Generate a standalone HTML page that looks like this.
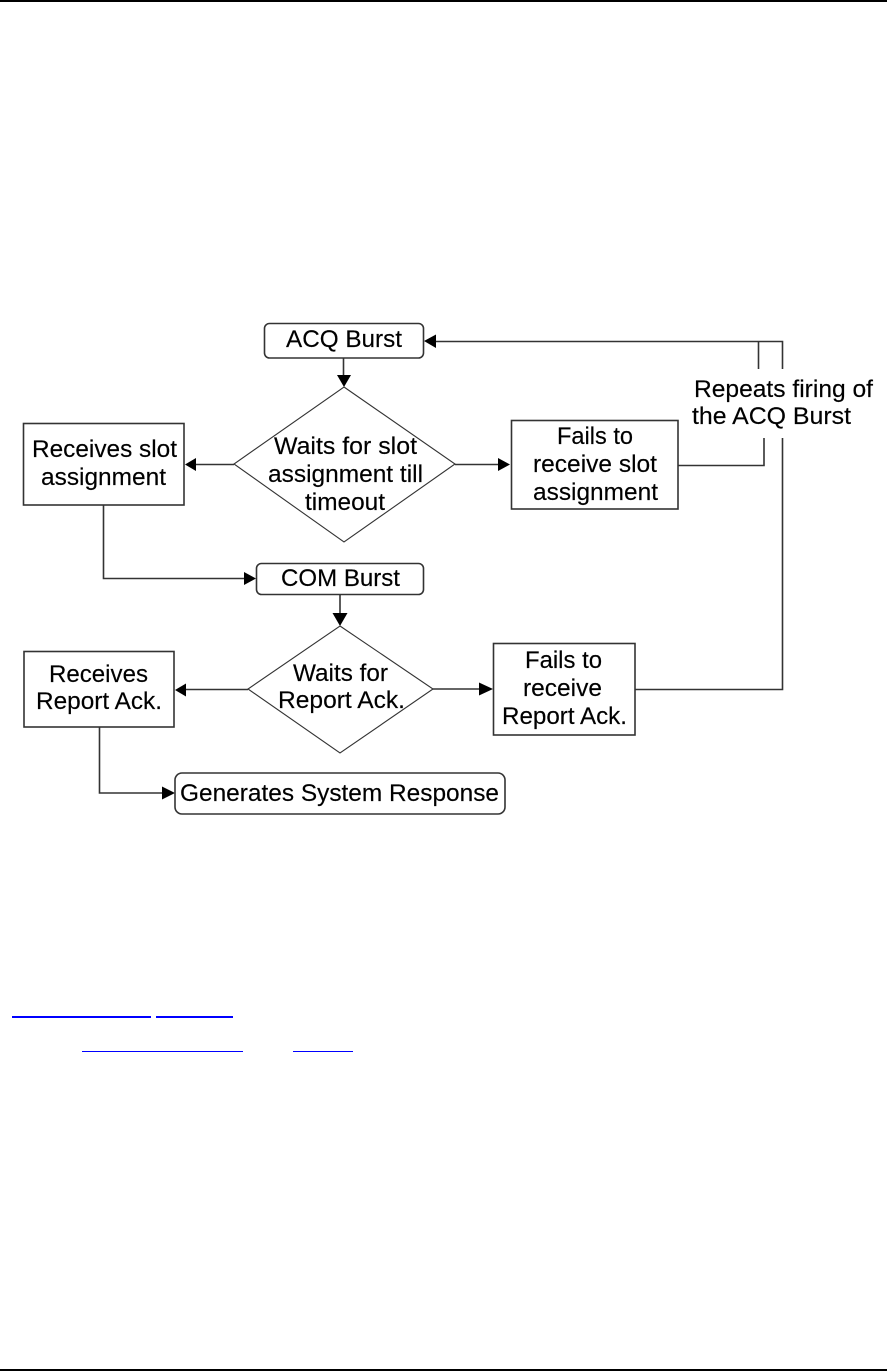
<!DOCTYPE html>
<html lang="en">
<head>
<meta charset="utf-8">
<title>ACQ and COM Burst Flowchart</title>
<style>
html,body{margin:0;padding:0;background:#fff;width:887px;height:1371px;overflow:hidden}
svg{display:block}
text{font-family:"Liberation Sans",sans-serif;font-size:24px;fill:#000;stroke:#000;stroke-width:.15;text-anchor:start}
.s{fill:#fff;stroke:#333;stroke-width:1.6}
.d{fill:#fff;stroke:#333;stroke-width:1.1}
.l{fill:none;stroke:#333;stroke-width:1.6}
.a{fill:#000;stroke:none}
.soft{filter:blur(.3px)}
</style>
</head>
<body>
<svg width="887" height="1371" viewBox="0 0 887 1371" xmlns="http://www.w3.org/2000/svg">
<rect x="0" y="0" width="887" height="2" fill="#000"/>
<rect x="0" y="1369" width="887" height="2" fill="#000"/>

<g class="soft">
<!-- connectors -->
<path class="l" d="M343.5 358V376"/>
<path class="l" d="M234 464.5H195"/>
<path class="l" d="M455 464.5H498"/>
<path class="l" d="M678 465.5H764V438"/>
<path class="l" d="M435 341.5H782.5V369"/>
<path class="l" d="M758.5 341.5V369"/>
<path class="l" d="M782.5 438V689.5H635"/>
<path class="l" d="M103.5 505V578.5H245"/>
<path class="l" d="M340 594V614"/>
<path class="l" d="M433 689H480"/>
<path class="l" d="M248 689.5H185"/>
<path class="l" d="M99.5 727V793H163"/>

<!-- arrowheads -->
<polygon class="a" points="424,341 436,334.5 436,348"/>
<polygon class="a" points="337,375 351,375 344,387"/>
<polygon class="a" points="185,464.5 196,458 196,471"/>
<polygon class="a" points="510,464.5 498,458 498,471"/>
<polygon class="a" points="256,578.5 244,572 244,585"/>
<polygon class="a" points="332.5,613 347.5,613 340,626"/>
<polygon class="a" points="493,689 479,682.5 479,695.5"/>
<polygon class="a" points="175,690 186,683.5 186,696.5"/>
<polygon class="a" points="175,793 162,786.5 162,799.5"/>

<!-- nodes -->
<rect class="s" x="264.5" y="323.5" width="159" height="34.5" rx="5"/>
<polygon class="d" points="344,387 455,464 344,542 234,464"/>
<rect class="s" x="23.5" y="423.5" width="160.5" height="81.5"/>
<rect class="s" x="511.5" y="420.5" width="166.5" height="88.5"/>
<rect class="s" x="256.5" y="563.5" width="167" height="31" rx="5"/>
<polygon class="d" points="340,626 433,689 340,753 248,689"/>
<rect class="s" x="24" y="651.5" width="150" height="75.5"/>
<rect class="s" x="493.5" y="643.5" width="141.5" height="91.5"/>
<rect class="s" x="175" y="773" width="330" height="41" rx="7"/>

<!-- labels -->
<text x="286" y="347" textLength="116" lengthAdjust="spacingAndGlyphs">ACQ Burst</text>
<text x="274" y="454" textLength="143" lengthAdjust="spacingAndGlyphs">Waits for slot</text>
<text x="268" y="482" textLength="155" lengthAdjust="spacingAndGlyphs">assignment till</text>
<text x="305" y="510" textLength="80" lengthAdjust="spacingAndGlyphs">timeout</text>
<text x="32" y="457" textLength="145" lengthAdjust="spacingAndGlyphs">Receives slot</text>
<text x="41" y="485" textLength="125" lengthAdjust="spacingAndGlyphs">assignment</text>
<text x="557" y="444" textLength="76" lengthAdjust="spacingAndGlyphs">Fails to</text>
<text x="533" y="472" textLength="124" lengthAdjust="spacingAndGlyphs">receive slot</text>
<text x="533" y="500" textLength="125" lengthAdjust="spacingAndGlyphs">assignment</text>
<text x="694" y="397" textLength="179" lengthAdjust="spacingAndGlyphs">Repeats firing of</text>
<text x="692" y="424" textLength="159" lengthAdjust="spacingAndGlyphs">the ACQ Burst</text>
<text x="281" y="586" textLength="119" lengthAdjust="spacingAndGlyphs">COM Burst</text>
<text x="293" y="681" textLength="95" lengthAdjust="spacingAndGlyphs">Waits for</text>
<text x="278" y="708" textLength="127" lengthAdjust="spacingAndGlyphs">Report Ack.</text>
<text x="49" y="682" textLength="99" lengthAdjust="spacingAndGlyphs">Receives</text>
<text x="36" y="709" textLength="126" lengthAdjust="spacingAndGlyphs">Report Ack.</text>
<text x="180" y="801" textLength="319" lengthAdjust="spacingAndGlyphs">Generates System Response</text>
<text x="525" y="668" textLength="77" lengthAdjust="spacingAndGlyphs">Fails to</text>
<text x="523" y="696" textLength="79" lengthAdjust="spacingAndGlyphs">receive</text>
<text x="502" y="724" textLength="125" lengthAdjust="spacingAndGlyphs">Report Ack.</text>
</g>

<!-- link underlines -->
<rect x="12" y="1016" width="139" height="2" fill="#0000ff"/>
<rect x="156" y="1016" width="77" height="2" fill="#0000ff"/>
<rect x="82" y="1051" width="161" height="1" fill="#0000ff"/>
<rect x="293" y="1051" width="60" height="1" fill="#0000ff"/>
</svg>
</body>
</html>
